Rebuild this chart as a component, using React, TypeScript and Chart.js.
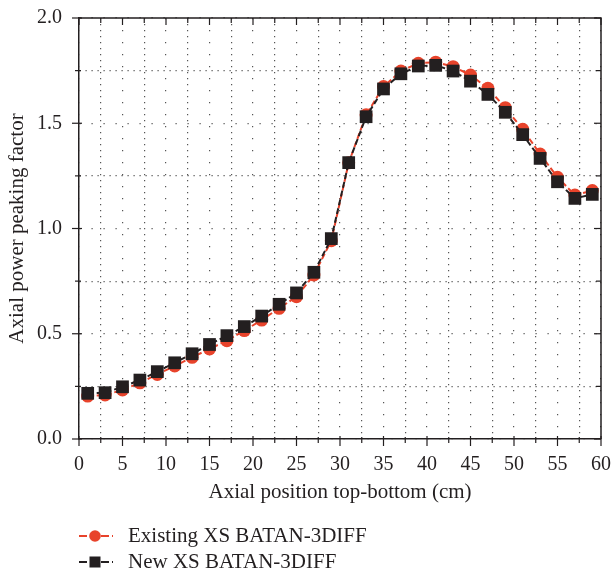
import { useEffect, useRef } from "react";
import { Chart, registerables } from "chart.js";

Chart.register(...registerables);

// ---- data ----
const positions = [1, 3, 5, 7, 9, 11, 13, 15, 17, 19, 21, 23, 25, 27, 29, 31, 33, 35, 37, 39, 41, 43, 45, 47, 49, 51, 53, 55, 57, 59];
const existingXS = [0.204, 0.209, 0.233, 0.267, 0.307, 0.347, 0.388, 0.428, 0.467, 0.515, 0.565, 0.621, 0.676, 0.779, 0.942, 1.312, 1.54, 1.674, 1.748, 1.785, 1.79, 1.769, 1.729, 1.666, 1.574, 1.471, 1.354, 1.243, 1.159, 1.18];
const newXS = [0.217, 0.22, 0.248, 0.28, 0.32, 0.362, 0.405, 0.449, 0.491, 0.534, 0.584, 0.64, 0.694, 0.792, 0.952, 1.313, 1.531, 1.663, 1.735, 1.772, 1.775, 1.748, 1.70, 1.637, 1.552, 1.446, 1.333, 1.222, 1.143, 1.162];
const seriesNames = ["Existing XS BATAN-3DIFF", "New XS BATAN-3DIFF"];
const xTitle = "Axial position top-bottom (cm)";
const yTitle = "Axial power peaking factor";

const RED = "#E8432B";
const DARK = "#231F20";
const GRID = "#555555";
const FONT = '"Liberation Serif", "Times New Roman", serif';

const frameTicks = {
  id: "frameTicks",
  afterDraw(chart: any) {
    const { ctx, chartArea: a, scales } = chart;
    const x = scales.x;
    const y = scales.y;
    ctx.save();
    ctx.strokeStyle = DARK;
    ctx.lineWidth = 1.5;
    ctx.beginPath();
    ctx.moveTo(a.left, a.top);
    ctx.lineTo(a.right, a.top);
    ctx.lineTo(a.right, a.bottom);
    ctx.stroke();
    ctx.lineWidth = 1.2;
    const seg = (x1: number, y1: number, x2: number, y2: number) => {
      ctx.beginPath();
      ctx.moveTo(x1, y1);
      ctx.lineTo(x2, y2);
      ctx.stroke();
    };
    x.ticks.forEach((t: any) => {
      const px = x.getPixelForValue(t.value);
      const major = Math.abs(t.value % 5) < 1e-6;
      seg(px, a.bottom - (major ? 3 : 2), px, a.bottom + (major ? 7 : 4));
      seg(px, a.top, px, a.top + (major ? 7 : 5));
    });
    y.ticks.forEach((t: any) => {
      const py = y.getPixelForValue(t.value);
      const major = Math.abs(Math.round(t.value * 2) - t.value * 2) < 1e-6;
      seg(a.left - (major ? 7 : 4), py, a.left + (major ? 3 : 2), py);
      seg(a.right, py, a.right - (major ? 7 : 5), py);
    });
    ctx.restore();
  },
};

const bottomLegend = {
  id: "bottomLegend",
  afterDraw(chart: any) {
    const { ctx } = chart;
    const rows = [536, 562];
    chart.data.datasets.forEach((ds: any, i: number) => {
      const yy = rows[i];
      ctx.save();
      ctx.strokeStyle = ds.borderColor;
      ctx.lineWidth = 2.2;
      ctx.setLineDash([8, 3]);
      ctx.beginPath();
      ctx.moveTo(79, yy);
      ctx.lineTo(113, yy);
      ctx.stroke();
      ctx.setLineDash([]);
      ctx.fillStyle = ds.backgroundColor;
      if (ds.pointStyle === "rect") {
        ctx.fillRect(95 - 5.5, yy - 5.5, 11, 11);
      } else {
        ctx.beginPath();
        ctx.arc(95, yy, 5.8, 0, Math.PI * 2);
        ctx.fill();
      }
      ctx.fillStyle = DARK;
      ctx.font = `21px ${FONT}`;
      ctx.textBaseline = "middle";
      ctx.textAlign = "left";
      ctx.fillText(ds.label, 128, yy);
      ctx.restore();
    });
  },
};

const zeroPad = (s: any) => {
  s.paddingTop = 0;
  s.paddingBottom = 0;
  s.paddingLeft = 0;
  s.paddingRight = 0;
};

export default function App() {
  const ref = useRef<HTMLCanvasElement | null>(null);
  useEffect(() => {
    if (!ref.current) return;
    const isMajorX = (v: number) => Math.abs(v % 5) < 1e-6;
    const isMajorY = (v: number) => Math.abs(Math.round(v * 2) - v * 2) < 1e-6;
    const chart = new Chart(ref.current, {
      type: "line",
      data: {
        datasets: [
          {
            label: seriesNames[0],
            data: positions.map((p, i) => ({ x: p, y: existingXS[i] })),
            borderColor: RED,
            backgroundColor: RED,
            pointBackgroundColor: RED,
            pointBorderColor: RED,
            pointStyle: "circle",
            pointRadius: 6.5,
            pointBorderWidth: 0,
            borderWidth: 2,
            borderDash: [6, 3],
            order: 2,
          },
          {
            label: seriesNames[1],
            data: positions.map((p, i) => ({ x: p, y: newXS[i] })),
            borderColor: DARK,
            backgroundColor: DARK,
            pointBackgroundColor: DARK,
            pointBorderColor: DARK,
            pointStyle: "rect",
            pointRadius: 9,
            pointBorderWidth: 0,
            borderWidth: 2,
            borderDash: [6, 3],
            order: 1,
          },
        ],
      },
      options: {
        responsive: false,
        animation: false,
        layout: { padding: { left: 0, right: 10, top: 18, bottom: 70 } },
        font: { family: FONT, size: 20 },
        plugins: {
          legend: { display: false },
          tooltip: { enabled: false },
        },
        scales: {
          x: {
            type: "linear",
            min: 0,
            max: 60,
            afterFit: (s: any) => {
              s.height = 66;
              zeroPad(s);
            },
            ticks: {
              stepSize: 2.5,
              autoSkip: false,
              maxRotation: 0,
              padding: 14,
              color: DARK,
              font: { family: FONT, size: 20 },
              callback: (v: any) => (isMajorX(Number(v)) ? String(v) : ""),
            },
            grid: {
              drawTicks: false,
              color: GRID,
              lineWidth: 1.2,
            },
            border: {
              display: true,
              color: DARK,
              width: 1.5,
              dash: (c: any) => (c.tick ? (isMajorX(c.tick.value) ? [1.2, 10.8] : [1.2, 4.8]) : []),
            },
            title: {
              display: true,
              text: xTitle,
              color: DARK,
              font: { family: FONT, size: 21 },
              padding: { top: 0, bottom: 0 },
            },
          },
          y: {
            min: 0,
            max: 2,
            afterFit: (s: any) => {
              s.width = 79;
              zeroPad(s);
            },
            ticks: {
              stepSize: 0.25,
              autoSkip: false,
              padding: 17,
              color: DARK,
              font: { family: FONT, size: 20 },
              callback: (v: any) => (isMajorY(Number(v)) ? Number(v).toFixed(1) : ""),
            },
            grid: {
              drawTicks: false,
              color: GRID,
              lineWidth: 1.2,
            },
            border: {
              display: true,
              color: DARK,
              width: 1.5,
              dash: (c: any) => (c.tick ? (isMajorY(c.tick.value) ? [1.2, 10.8] : [1.2, 4.8]) : []),
            },
            title: {
              display: true,
              text: yTitle,
              color: DARK,
              font: { family: FONT, size: 21 },
              padding: { top: 5, bottom: 0 },
            },
          },
        },
      },
      plugins: [frameTicks, bottomLegend],
    } as any);
    return () => chart.destroy();
  }, []);
  return (
    <div style={{ position: "absolute", left: 0, top: 0, width: 611, height: 575, background: "#fff" }}>
      <canvas ref={ref} width={611} height={575} style={{ display: "block" }} />
    </div>
  );
}
